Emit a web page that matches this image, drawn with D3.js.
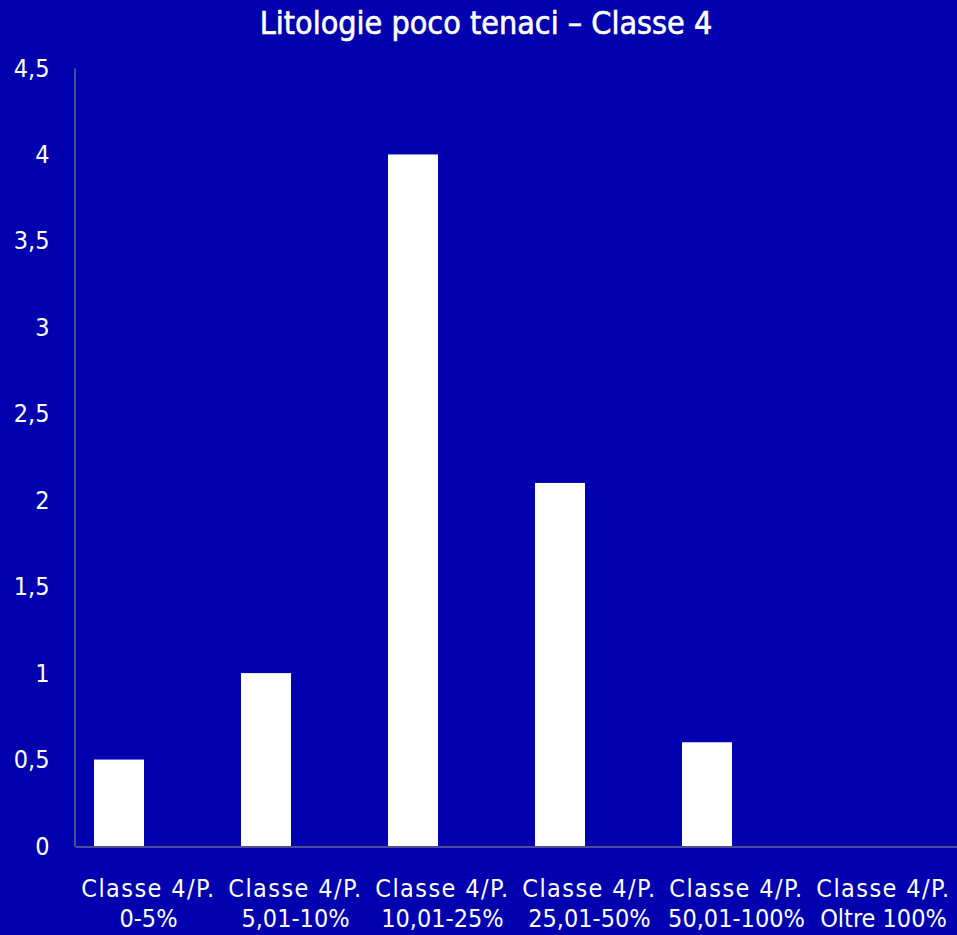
<!DOCTYPE html>
<html>
<head>
<meta charset="utf-8">
<script src="https://cdn.jsdelivr.net/npm/d3@7"></script>
<style>
  html, body { margin: 0; padding: 0; background: #0000AE; }
  svg text { font-family: "DejaVu Sans Condensed", "Liberation Sans Narrow", sans-serif; fill: #fff; }
</style>
</head>
<body>
<svg width="957" height="935"></svg>
<script>
// dati
var categories = ["Classe 4/P.|0-5%", "Classe 4/P.|5,01-10%", "Classe 4/P.|10,01-25%",
                  "Classe 4/P.|25,01-50%", "Classe 4/P.|50,01-100%", "Classe 4/P.|Oltre 100%"];
var values = [0.5, 1, 4, 2.1, 0.6, 0];
var yTicks = [0, 0.5, 1, 1.5, 2, 2.5, 3, 3.5, 4, 4.5];
var title = "Litologie poco tenaci \u2013 Classe 4";

var svg = d3.select("svg"),
    width = +svg.attr("width"),
    height = +svg.attr("height");

var margin = {top: 68, right: 0, bottom: 89, left: 75};

var x = d3.scaleBand()
    .domain(categories)
    .range([margin.left, width - margin.right]);

var y = d3.scaleLinear()
    .domain([0, 4.5])
    .range([height - margin.bottom, margin.top]);

var fmt = function (d) { return String(d).replace(".", ","); };

svg.append("rect").attr("width", width).attr("height", height).attr("fill", "#0000AE");

// titolo
svg.append("text")
    .attr("x", 486).attr("y", 34)
    .attr("text-anchor", "middle")
    .style("font-size", "32px")
    .style("stroke", "#fff").style("stroke-width", "0.6px")
    .text(title);

// barre (spostate a sinistra nella banda come nel grafico originale)
var barW = 50;
svg.append("g").selectAll("rect")
    .data(values)
    .enter().append("rect")
      .attr("x", function (d, i) { return x(categories[i]) + 19; })
      .attr("y", function (d) { return y(d); })
      .attr("width", barW)
      .attr("height", function (d) { return y(0) - y(d); })
      .attr("fill", "#fff");

// asse y
var yAxis = svg.append("g")
    .attr("transform", "translate(" + (margin.left - 0.5) + ",0)")
    .call(d3.axisLeft(y).tickValues(yTicks).tickFormat(fmt).tickSize(0).tickPadding(25));
yAxis.select(".domain").attr("stroke", "#9a9a7a").attr("stroke-width", 1);
yAxis.selectAll("text").style("font-size", "25px").attr("fill", "#fff");

// asse x
var xAxis = svg.append("g")
    .attr("transform", "translate(0," + (y(0) + 0.5) + ")")
    .call(d3.axisBottom(x).tickSize(0).tickFormat(""));
xAxis.select(".domain").attr("stroke", "#9a9a7a").attr("stroke-width", 1);

var lab = svg.append("g").selectAll("text")
    .data(categories)
    .enter().append("text")
      .attr("text-anchor", "middle")
      .attr("x", function (d) { return x(d) + x.bandwidth() / 2; })
      .attr("y", 897)
      .style("font-size", "25px");
lab.each(function (d) {
  var parts = d.split("|");
  var t = d3.select(this);
  t.append("tspan").attr("x", t.attr("x")).style("letter-spacing", "1.4px").text(parts[0]);
  t.append("tspan").attr("x", t.attr("x")).attr("dy", 30).style("letter-spacing", "0px").text(parts[1]);
});
</script>
</body>
</html>
